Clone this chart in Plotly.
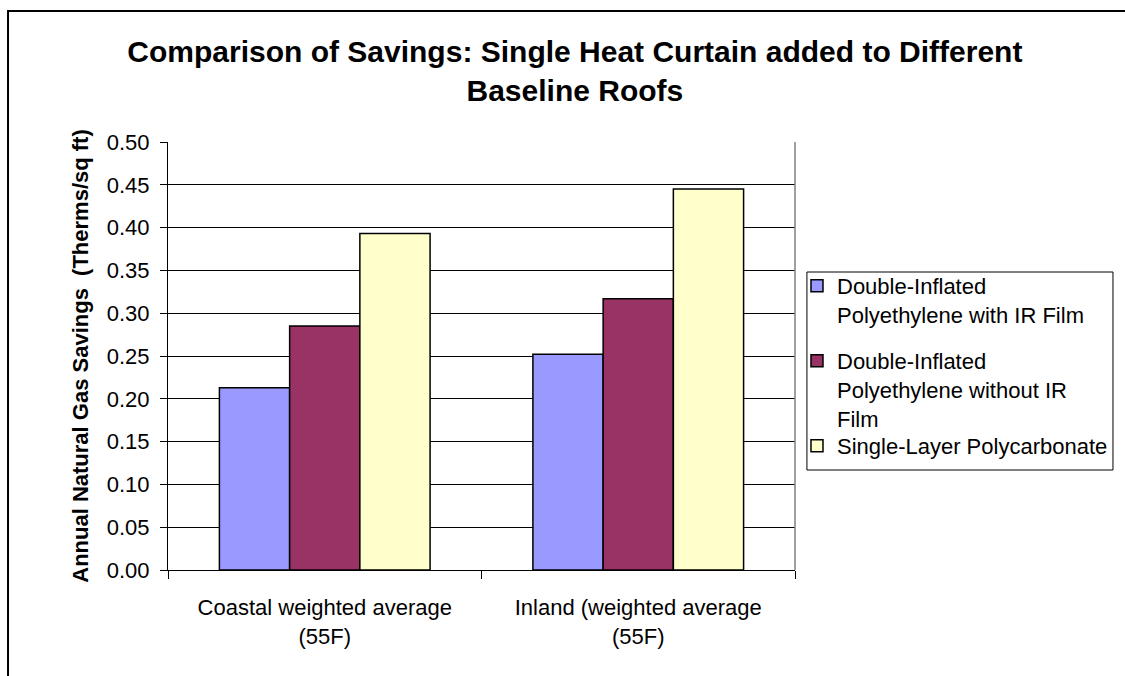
import plotly.graph_objects as go

# Categories and savings values (Therms/sq ft)
categories = ["Coastal weighted average<br>(55F)", "Inland (weighted average<br>(55F)"]
series_names = [
    "Double-Inflated<br>Polyethylene with IR Film",
    "Double-Inflated<br>Polyethylene without IR<br>Film",
    "Single-Layer Polycarbonate",
]
with_ir_film = [0.213, 0.252]
without_ir_film = [0.285, 0.317]
polycarbonate = [0.393, 0.445]
y_ticks = [0.00, 0.05, 0.10, 0.15, 0.20, 0.25, 0.30, 0.35, 0.40, 0.45, 0.50]

colors = ["#9999FF", "#993366", "#FFFFCC"]
FONT = "Liberation Sans, Arial, sans-serif"

W, H = 1125, 676
L, R, T, B = 168, 326, 142, 106
pw, ph = W - L - R, H - T - B

def px_x(x):
    return (x - L) / pw

def px_y(y):
    return (H - B - y) / ph

# one legend per series so each entry sits at its own height
legend_ids = ["legend", "legend2", "legend3"]
legend_tops = [265, 340, 425]

fig = go.Figure()
for i, (name, vals) in enumerate(zip(series_names, [with_ir_film, without_ir_film, polycarbonate])):
    fig.add_trace(go.Bar(
        x=categories, y=vals, name=name,
        marker=dict(color=colors[i], line=dict(color="#000000", width=1.5)),
        legend=legend_ids[i],
    ))

legend_common = dict(
    x=px_x(801), xanchor="left", yanchor="top",
    borderwidth=0, bgcolor="rgba(0,0,0,0)",
    font=dict(family=FONT, size=22, color="#000000"),
    valign="top",
)

fig.update_layout(
    width=W, height=H,
    margin=dict(l=L, r=R, t=T, b=B),
    paper_bgcolor="white", plot_bgcolor="white",
    font=dict(family=FONT, size=22, color="#000000"),
    barmode="group", bargap=0.328, bargroupgap=0,
    title=dict(
        text="<b>Comparison of Savings: Single Heat Curtain added to Different<br>Baseline Roofs</b>",
        x=0.511, xanchor="center", xref="container",
        y=1 - 62 / H, yanchor="top", yref="container",
        font=dict(family=FONT, size=30, color="#000000"),
    ),
    legend=dict(legend_common, y=px_y(legend_tops[0])),
    legend2=dict(legend_common, y=px_y(legend_tops[1])),
    legend3=dict(legend_common, y=px_y(legend_tops[2])),
    showlegend=True,
)

fig.update_xaxes(
    showline=True, linecolor="#000000", linewidth=1,
    ticks="outside", tickson="boundaries", ticklen=8, tickcolor="#000000",
    showgrid=False, tickfont=dict(family=FONT, size=22), ticklabelstandoff=18,
)
fig.update_yaxes(
    range=[0, 0.5], tickvals=y_ticks, ticktext=[f"{v:.2f}" for v in y_ticks],
    showline=True, linecolor="#000000", linewidth=1,
    ticks="outside", ticklen=7, tickcolor="#000000",
    showgrid=True, gridcolor="#000000", gridwidth=1,
    zeroline=False, ticklabelstandoff=6,
    title=dict(text="<b>Annual Natural Gas Savings  (Therms/sq ft)</b>",
               font=dict(family=FONT, size=22), standoff=12),
)

# right edge of the plot area
fig.add_shape(type="line", xref="paper", yref="paper", x0=1, x1=1, y0=0, y1=1,
              line=dict(color="#808080", width=1.5))
# legend frame
fig.add_shape(type="rect", xref="paper", yref="paper",
              x0=px_x(811), x1=px_x(1119), y0=px_y(470), y1=px_y(272),
              line=dict(color="#000000", width=1), fillcolor="rgba(0,0,0,0)")
# outer chart frame
fig.add_shape(type="rect", xref="paper", yref="paper",
              x0=px_x(7), x1=px_x(1140), y0=px_y(690), y1=px_y(11),
              line=dict(color="#000000", width=2), layer="above")

fig.write_html("out.html")
